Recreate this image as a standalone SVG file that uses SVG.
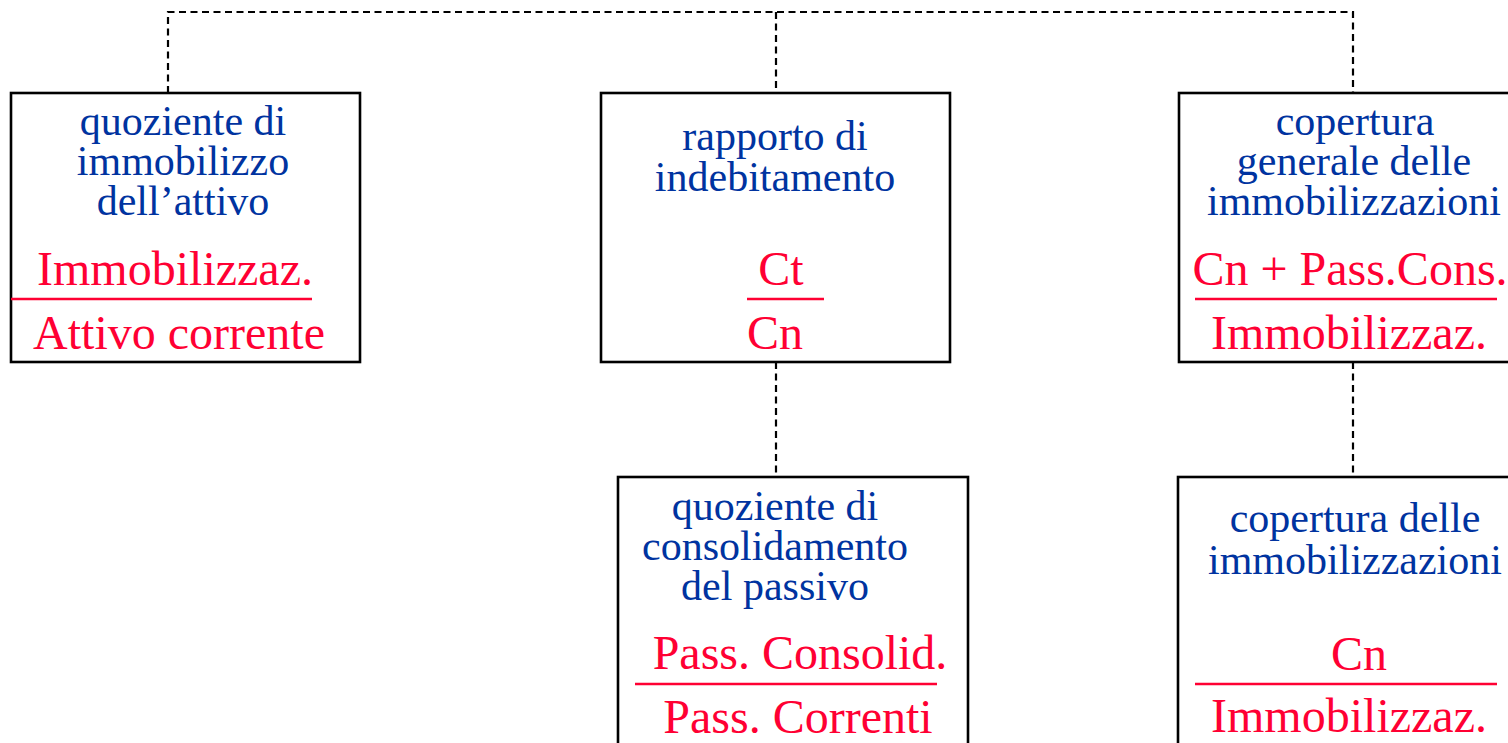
<svg xmlns="http://www.w3.org/2000/svg" width="1508" height="743" viewBox="0 0 1508 743">
<style>
.box{fill:#fff;stroke:#000;stroke-width:2.6}
.con{fill:none;stroke:#000;stroke-width:2.2;stroke-dasharray:7 4.5}
.t{font-family:"Liberation Serif","Times New Roman",serif;text-anchor:middle}
.b{fill:#0033a0;font-size:42px}
.r{fill:#ff0033;font-size:48px}
.fr{stroke:#ff0033;stroke-width:2.6}
</style>
<rect width="1508" height="743" fill="#fff"/>
<g id="connectors">
<path class="con" d="M168 93 V12 H1353 V93"/>
<path class="con" d="M776 12 V93"/>
<path class="con" d="M776 362 V477"/>
<path class="con" d="M1353 362 V477"/>
</g>
<g id="n1">
<rect class="box" x="11" y="93" width="349" height="269"/>
<text class="t b" x="183" y="135">quoziente di</text>
<text class="t b" x="183" y="175">immobilizzo</text>
<text class="t b" x="183" y="215">dell’attivo</text>
<text class="t r" x="175" y="285">Immobilizzaz.</text>
<line class="fr" x1="11" y1="299" x2="312" y2="299"/>
<text class="t r" x="179" y="349">Attivo corrente</text>
</g>
<g id="n2">
<rect class="box" x="601" y="93" width="349" height="269"/>
<text class="t b" x="775" y="150">rapporto di</text>
<text class="t b" x="775" y="191">indebitamento</text>
<text class="t r" x="781" y="285">Ct</text>
<line class="fr" x1="747" y1="299" x2="824" y2="299"/>
<text class="t r" x="775" y="349">Cn</text>
</g>
<g id="n3">
<rect class="box" x="1179" y="93" width="350" height="269"/>
<text class="t b" x="1355" y="135">copertura</text>
<text class="t b" x="1354" y="175">generale delle</text>
<text class="t b" x="1354" y="215">immobilizzazioni</text>
<text class="t r" x="1350" y="285">Cn + Pass.Cons.</text>
<line class="fr" x1="1195" y1="299" x2="1497" y2="299"/>
<text class="t r" x="1349" y="349">Immobilizzaz.</text>
</g>
<g id="n4">
<rect class="box" x="618" y="477" width="350" height="280"/>
<text class="t b" x="775" y="520">quoziente di</text>
<text class="t b" x="775" y="560">consolidamento</text>
<text class="t b" x="775" y="600">del passivo</text>
<text class="t r" x="800" y="669">Pass. Consolid.</text>
<line class="fr" x1="635" y1="684" x2="937" y2="684"/>
<text class="t r" x="798" y="733">Pass. Correnti</text>
</g>
<g id="n5">
<rect class="box" x="1178" y="477" width="350" height="280"/>
<text class="t b" x="1355" y="532">copertura delle</text>
<text class="t b" x="1355" y="574">immobilizzazioni</text>
<text class="t r" x="1359" y="670">Cn</text>
<line class="fr" x1="1195" y1="684" x2="1497" y2="684"/>
<text class="t r" x="1349" y="732">Immobilizzaz.</text>
</g>
</svg>
